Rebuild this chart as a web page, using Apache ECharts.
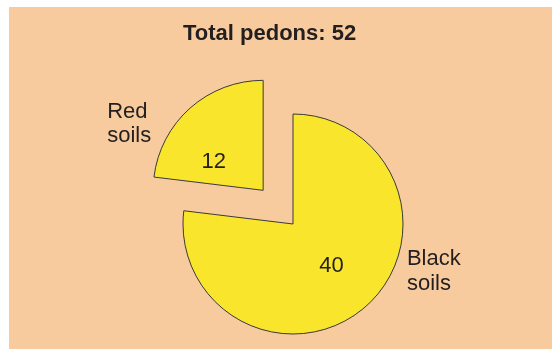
<!DOCTYPE html>
<html>
<head>
<meta charset="utf-8">
<script src="https://cdn.jsdelivr.net/npm/echarts@6/dist/echarts.min.js"></script>
<style>
  html, body { margin: 0; padding: 0; background: #ffffff; }
  #chart { width: 552px; height: 349px; }
</style>
</head>
<body>
<div id="chart"></div>
<script>
// Pedon counts by soil group
const categories = ['Black\nsoils', 'Red\nsoils'];
const pedons = [40, 12];
const titleText = 'Total pedons: 52';

const FONT = "'Liberation Sans', Arial, Helvetica, sans-serif";
const INK = '#231f20';
const FILL = '#f9e52b';
const BG = '#f7cb9d';

const data = categories.map((name, i) => ({
  name: name,
  value: pedons[i],
  selected: name.indexOf('Red') === 0
}));

const common = {
  type: 'pie',
  center: [293, 224],
  radius: [0, 110],
  startAngle: 90,
  clockwise: true,
  selectedMode: 'single',
  selectedOffset: 45,
  avoidLabelOverlap: false,
  animation: false,
  emphasis: { disabled: true, scale: false },
  data: data
};

const chart = echarts.init(document.getElementById('chart'), null, { renderer: 'canvas' });
chart.setOption({
  backgroundColor: '#ffffff',
  graphic: [{
    type: 'rect',
    left: 9, top: 7, z: -10,
    shape: { width: 543, height: 342 },
    style: { fill: BG },
    silent: true
  }],
  title: {
    text: titleText,
    left: 183, top: 23, padding: 0,
    textStyle: { fontFamily: FONT, fontSize: 22, fontWeight: 'bold', color: INK }
  },
  series: [
    // slices with their counts
    Object.assign({}, common, {
      z: 3,
      itemStyle: { color: FILL, borderColor: '#3a3a3a', borderWidth: 1 },
      label: {
        show: true, position: 'inside', formatter: '{c}',
        fontFamily: FONT, fontSize: 22, color: INK
      },
      labelLine: { show: false },
      labelLayout: function (p) {
        return p.dataIndex === 1 ? { dx: -11, dy: 15 } : { dx: 0, dy: -1 };
      }
    }),
    // group names beside the slices
    Object.assign({}, common, {
      z: 2, silent: true,
      itemStyle: { color: 'rgba(0,0,0,0)', borderWidth: 0 },
      label: {
        show: true, position: 'outside', formatter: '{b}',
        fontFamily: FONT, fontSize: 22, lineHeight: 24.5, color: INK
      },
      labelLine: { show: false, length: 0, length2: 0 },
      labelLayout: function (p) {
        return p.dataIndex === 1
          ? { align: 'left', dx: -78, dy: 16 }
          : { align: 'left', dx: 36, dy: -35 };
      }
    })
  ]
});
</script>
</body>
</html>
